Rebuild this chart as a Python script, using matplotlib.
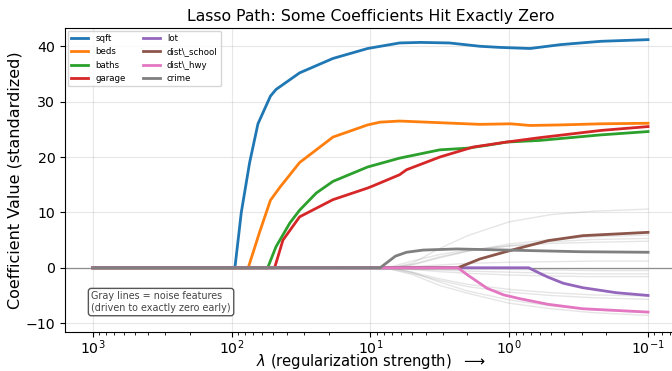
import numpy as np
import matplotlib
matplotlib.use("Agg")
import matplotlib.pyplot as plt

# log10(lambda) positions and coefficient values
sqft_loglam = [3.0, 1.976, 1.93, 1.87, 1.81, 1.72, 1.68, 1.51, 1.27, 1.02, 0.79, 0.64, 0.43, 0.21, 0.07, -0.15, -0.37, -0.66, -1.0]
sqft_coef = [0, 0, 10, 19, 26, 31, 32.2, 35.2, 37.8, 39.6, 40.6, 40.7, 40.6, 40.0, 39.8, 39.6, 40.3, 40.9, 41.2]

beds_loglam = [3.0, 1.88, 1.80, 1.72, 1.65, 1.51, 1.27, 1.02, 0.93, 0.79, 0.50, 0.21, -0.01, -0.15, -0.37, -0.66, -1.0]
beds_coef = [0, 0, 6.3, 12.2, 14.6, 19, 23.6, 25.8, 26.3, 26.5, 26.2, 25.9, 26.0, 25.7, 25.8, 26.0, 26.1]

baths_loglam = [3.0, 1.74, 1.68, 1.58, 1.51, 1.39, 1.27, 1.02, 0.79, 0.50, 0.30, 0.14, 0.02, -0.22, -0.66, -1.0]
baths_coef = [0, 0, 3.8, 8.1, 10.4, 13.5, 15.6, 18.2, 19.8, 21.3, 21.6, 22.2, 22.7, 23.0, 24.0, 24.6]

garage_loglam = [3.0, 1.69, 1.63, 1.51, 1.27, 1.02, 0.98, 0.79, 0.74, 0.50, 0.26, 0.02, -0.22, -0.66, -1.0]
garage_coef = [0, 0, 5, 9.2, 12.3, 14.4, 14.8, 16.8, 17.7, 20.0, 21.8, 22.7, 23.5, 24.8, 25.5]

lot_loglam = [3.0, -0.14, -0.22, -0.28, -0.39, -0.53, -0.77, -1.0]
lot_coef = [0, 0, -1.0, -1.7, -2.8, -3.6, -4.5, -5.0]

school_loglam = [3.0, 0.37, 0.21, 0.01, -0.08, -0.28, -0.53, -1.0]
school_coef = [0, 0, 1.6, 3.0, 3.6, 4.9, 5.8, 6.4]

hwy_loglam = [3.0, 0.37, 0.30, 0.16, 0.04, -0.08, -0.28, -0.53, -1.0]
hwy_coef = [0, 0, -1.3, -3.7, -4.9, -5.6, -6.6, -7.4, -8.0]

crime_loglam = [3.0, 0.93, 0.82, 0.74, 0.62, 0.38, 0.02, -0.51, -1.0]
crime_coef = [0, 0, 2.1, 2.8, 3.2, 3.4, 3.2, 2.9, 2.8]

names = ["sqft", "beds", "baths", "garage", "lot", r"dist\_school", r"dist\_hwy", "crime"]
paths_x = [sqft_loglam, beds_loglam, baths_loglam, garage_loglam, lot_loglam, school_loglam, hwy_loglam, crime_loglam]
paths_y = [sqft_coef, beds_coef, baths_coef, garage_coef, lot_coef, school_coef, hwy_coef, crime_coef]

# noise features, all on one grid
noise_loglam = [3.0, 0.85, 0.7, 0.5, 0.3, 0.0, -0.3, -0.6, -1.0]
noise_coefs = [
    [0, 0, 0.8, 3.5, 5.8, 8.3, 9.6, 10.2, 10.6],
    [0, 0, 0.5, 1.8, 3.0, 4.3, 5.1, 5.6, 5.9],
    [0, 0, 0.6, 2.0, 3.0, 4.0, 4.7, 5.1, 5.3],
    [0, 0.2, 1.2, 2.4, 3.2, 3.9, 4.4, 4.6, 4.8],
    [0, 0, 0.2, 0.5, 0.8, 1.0, 1.1, 1.2, 1.2],
    [0, 0, 0, -0.1, -0.2, -0.3, -0.4, -0.5, -0.5],
    [0, 0, -0.2, -0.4, -0.6, -0.8, -1.0, -1.1, -1.1],
    [0, 0, -0.3, -0.7, -1.0, -1.3, -1.5, -1.6, -1.6],
    [0, 0, -0.8, -2.0, -3.0, -3.9, -4.5, -4.9, -5.1],
    [0, -0.2, -1.0, -2.3, -3.4, -4.4, -5.0, -5.4, -5.7],
    [0, 0, -0.8, -2.6, -4.2, -5.8, -6.9, -7.6, -8.1],
    [0, -0.3, -1.2, -3.2, -4.6, -6.4, -7.4, -8.1, -8.6],
]

fig = plt.figure(figsize=(6.72, 3.71), dpi=100)
ax = fig.add_axes([0.0967, 0.1051, 0.909, 0.8194])

ax.axhline(0, color='k', lw=0.9, alpha=0.5, zorder=1)

for nc in noise_coefs:
    ax.plot(10.0 ** np.array(noise_loglam), nc, color='gray', alpha=0.2, lw=1, zorder=2)

for i in range(len(names)):
    ax.plot(10.0 ** np.array(paths_x[i]), paths_y[i], color='C%d' % i, lw=2, label=names[i], zorder=3)

ax.set_xscale('log')
ax.set_xlim(10 ** 3.2, 10 ** -1.2)
ax.set_ylim(-11.6, 43.3)
ax.set_yticks([-10, 0, 10, 20, 30, 40])
ax.tick_params(labelsize=10.2)
ax.tick_params(axis='x', pad=1.0)
ax.grid(True, alpha=0.3)

ax.set_xlabel(r'$\lambda$ (regularization strength)  $\longrightarrow$', fontsize=10.6, labelpad=-3.5)
ax.set_ylabel('Coefficient Value (standardized)', fontsize=11.5, labelpad=2)
ax.set_title('Lasso Path: Some Coefficients Hit Exactly Zero', fontsize=11.3, pad=5)

ax.legend(loc='upper left', ncol=2, fontsize=6.2, borderaxespad=0.3)

ax.text(0.043, 0.063, 'Gray lines = noise features\n(driven to exactly zero early)',
        transform=ax.transAxes, fontsize=6.9, color='#444444', va='bottom', ha='left',
        bbox=dict(boxstyle='round', facecolor='white', edgecolor='#444444', alpha=0.9))

fig.savefig('out.png', dpi=100)
